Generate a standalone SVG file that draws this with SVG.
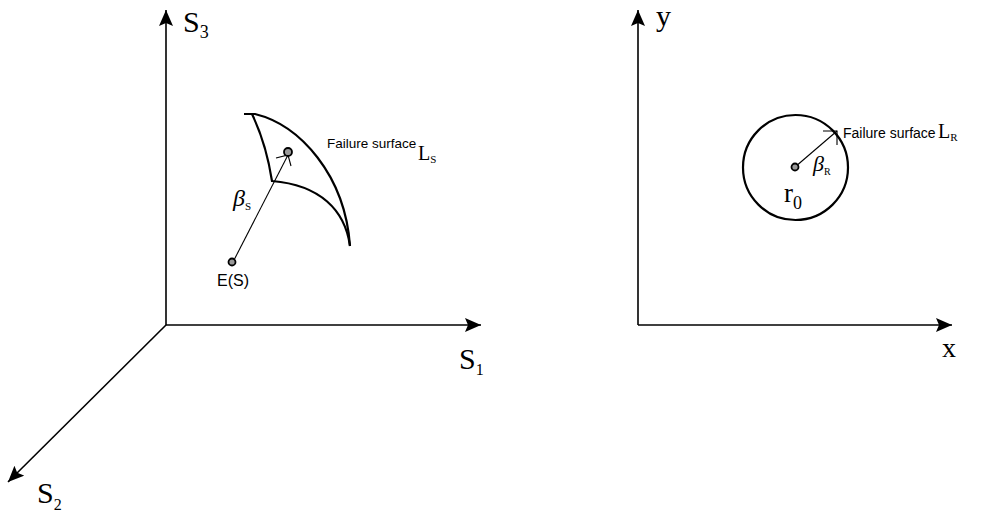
<svg xmlns="http://www.w3.org/2000/svg" width="985" height="512" viewBox="0 0 985 512">
<style>
.ax{stroke:#000;stroke-width:1.6;fill:none}
.thin{stroke:#000;stroke-width:1.1;fill:none}
.surf{stroke:#000;stroke-width:2.2;fill:none}
.dot{fill:#999;stroke:#000;stroke-width:1.8}
.ser{font-family:"Liberation Serif","Times New Roman",serif;fill:#000}
.sans{font-family:"Liberation Sans",Arial,sans-serif;fill:#000}
</style>
<defs>
<marker id="ah" markerUnits="userSpaceOnUse" viewBox="0 0 16 14" refX="16" refY="7" markerWidth="16" markerHeight="14" orient="auto">
<path d="M0,0 L16,7 L0,14 L3,7 Z" fill="#000"/>
</marker>
</defs>
<g id="connectors">
<line class="ax" x1="166" y1="325" x2="166" y2="10" marker-end="url(#ah)"/>
<line class="ax" x1="166" y1="325" x2="481" y2="325" marker-end="url(#ah)"/>
<line class="ax" x1="166" y1="325" x2="8" y2="482" marker-end="url(#ah)"/>
<line class="ax" x1="638" y1="325" x2="638" y2="10" marker-end="url(#ah)"/>
<line class="ax" x1="638" y1="325" x2="952" y2="325" marker-end="url(#ah)"/>
<line class="thin" x1="233" y1="262" x2="288" y2="155"/>
<path class="thin" d="M276,158 L288,155 L291,166"/>
<line class="thin" x1="795" y1="167" x2="837" y2="131"/>
<path class="thin" d="M823,131 L837,131 L837,145"/>
</g>
<g id="surface-S">
<path class="surf" d="M244,114 L255,114 C300,125 345,175 350,246"/>
<path class="surf" d="M252,114 C262,135 268,155 272,181 C320,185 345,210 350,246"/>
</g>
<g id="point-ES">
<circle class="dot" cx="232" cy="262" r="3.5"/>
<text class="sans" x="217" y="286" font-size="16">E(S)</text>
</g>
<g id="point-S">
<circle class="dot" cx="288" cy="152" r="4"/>
</g>
<g id="label-LS">
<text class="sans" x="327" y="148" font-size="13.5">Failure surface</text>
<text class="ser" x="418" y="160" font-size="20">L<tspan font-size="11" dy="3">S</tspan></text>
</g>
<g id="label-betaS">
<text class="ser" x="233" y="206" font-size="24" font-style="italic">β<tspan font-size="11" font-style="normal" dy="4">S</tspan></text>
</g>
<g id="labels-left-axes">
<text class="ser" x="183" y="32" font-size="30">S<tspan font-size="18" dy="6">3</tspan></text>
<text class="ser" x="459" y="369" font-size="30">S<tspan font-size="16" dy="6">1</tspan></text>
<text class="ser" x="37" y="503" font-size="30">S<tspan font-size="16" dy="7">2</tspan></text>
</g>
<g id="circle-R">
<circle cx="795.5" cy="167.5" r="52.5" fill="none" stroke="#000" stroke-width="2.2"/>
<circle class="dot" cx="795" cy="167" r="3.5"/>
<text class="ser" x="784" y="202" font-size="27">r<tspan font-size="18" dy="7">0</tspan></text>
<text class="ser" x="813" y="171" font-size="22" font-style="italic">β<tspan font-size="10" font-style="normal" dy="4">R</tspan></text>
</g>
<g id="label-LR">
<text class="sans" x="843" y="138" font-size="14">Failure surface</text>
<text class="ser" x="938" y="138" font-size="20">L<tspan font-size="11" dy="3">R</tspan></text>
</g>
<g id="labels-right-axes">
<text class="ser" x="656" y="26" font-size="30">y</text>
<text class="ser" x="942" y="357" font-size="28">x</text>
</g>
</svg>
